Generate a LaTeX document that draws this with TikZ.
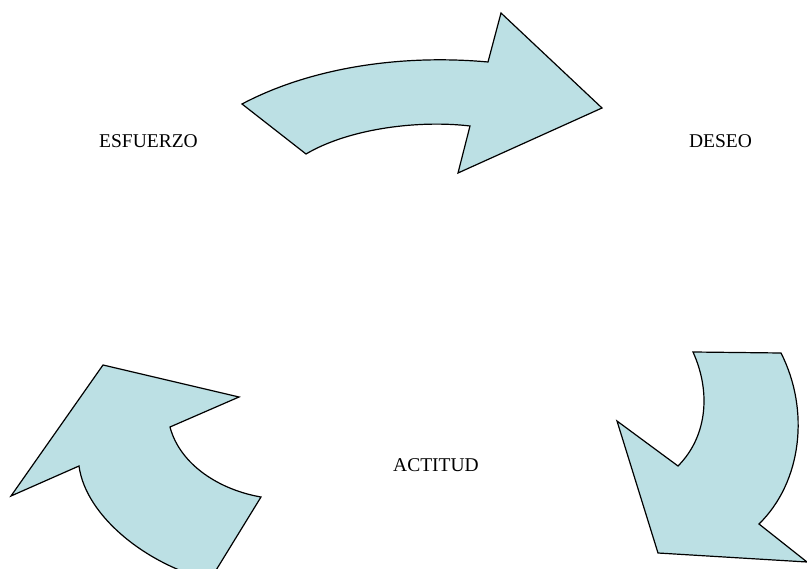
\documentclass[tikz,border=0pt]{standalone}
\usepackage{fontspec}
\setmainfont{Liberation Serif}
\definecolor{arrowfill}{RGB}{188,224,228}
\begin{document}
\begin{tikzpicture}[x=1pt,y=-1pt,
  blockarrow/.style={fill=arrowfill,draw=black,line width=1.2pt,line join=miter},
  label/.style={font=\fontsize{19.5}{22}\selectfont,anchor=base,inner sep=0pt}]
\useasboundingbox (0,0) rectangle (807,569);
\clip (0,0) rectangle (807,569);

% upper arrow, pointing right
\draw[blockarrow] (242,104) .. controls (310,68) and (400,54) .. (488,62)
  -- (501,13) -- (602,108) -- (458,173) -- (470,126)
  .. controls (420,120) and (350,128) .. (306,154) -- cycle;

% right arrow, pointing down
\draw[blockarrow] (693,352) -- (781,353)
  .. controls (810,410) and (802,482) .. (759,524)
  -- (807,562) -- (658,553) -- (617,421) -- (678,466)
  .. controls (706,438) and (712,394) .. (693,352) -- cycle;

% left arrow, pointing up
\draw[blockarrow] (103,365) -- (239,397) -- (170,427)
  .. controls (180,465) and (220,490) .. (261,497)
  -- (210,580)
  .. controls (150,566) and (86,518) .. (79,466)
  -- (11,496) -- cycle;

\node[label] (esfuerzo) at (148.5,148) {ESFUERZO};
\node[label] (deseo) at (720.5,148) {DESEO};
\node[label] (actitud) at (436,472) {ACTITUD};
\end{tikzpicture}
\end{document}
